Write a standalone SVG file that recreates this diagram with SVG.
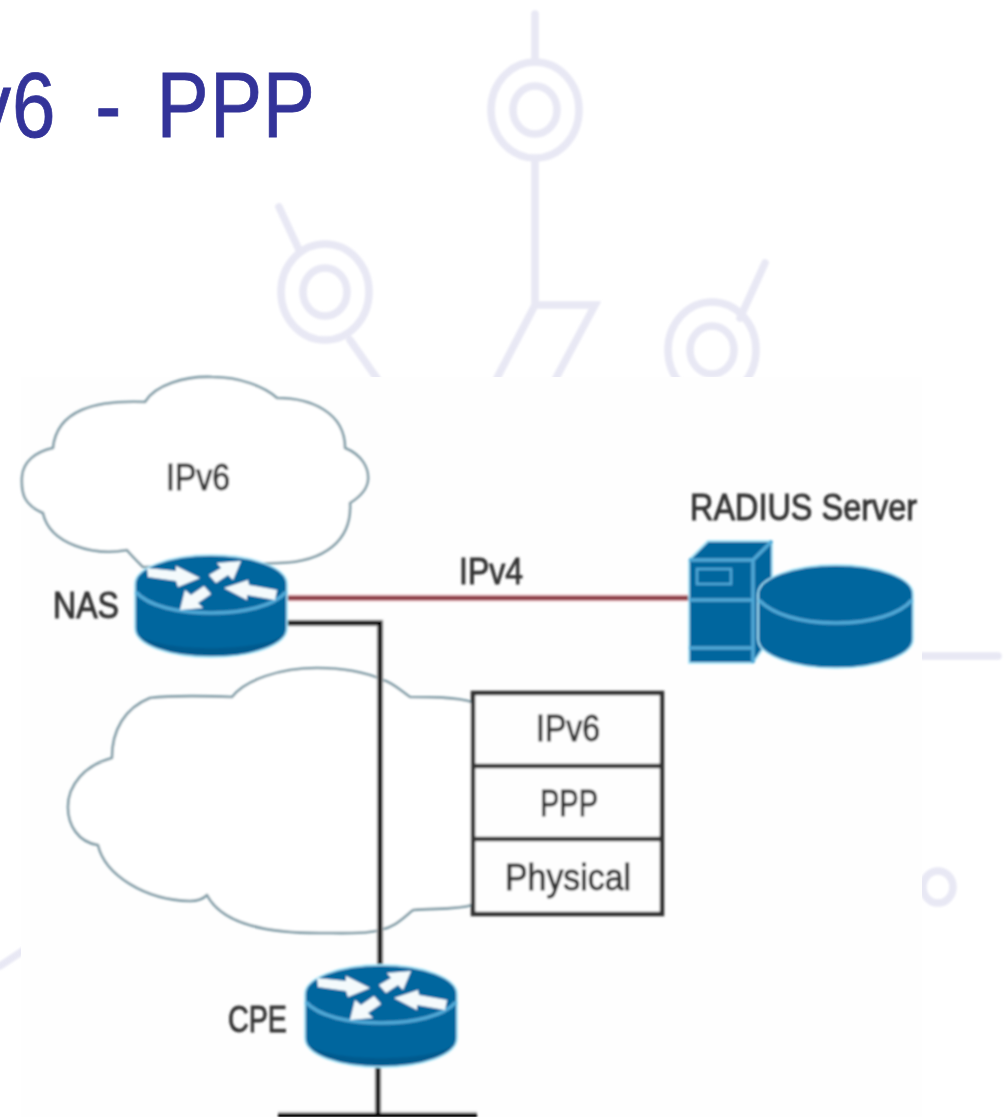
<svg xmlns="http://www.w3.org/2000/svg" width="1007" height="1117" viewBox="0 0 1007 1117">
<style>
.deco{fill:none;stroke:#e8e8f4;stroke-width:7.500;stroke-linecap:round}
.cloud{fill:#ffffff;stroke:#7f9ba6;stroke-width:2.600;stroke-linejoin:round}
.lbl{font-family:"Liberation Sans",Arial,sans-serif;font-size:37px;fill:#333333;stroke:#333333;stroke-width:.9}
.title{font-family:"Liberation Sans",Arial,sans-serif;font-size:92px;fill:#333399;stroke:#333399;stroke-width:.8}
.blue{fill:#04669e;stroke:#a5e2f7;stroke-width:1.800;stroke-linejoin:round}
.dark{fill:#035a8e}
.edge{fill:none;stroke:#4fa8d6;stroke-width:3.500}
.arrow{fill:#f4fafc}
.halo{fill:none;stroke:#cfcfcf;stroke-width:7}
.wire{fill:none;stroke:#000000;stroke-width:4.500}
.box{fill:#fefefe;stroke:#333333;stroke-width:4.500}
</style>
<defs>
<filter id="soft" x="-2%" y="-2%" width="104%" height="104%"><feGaussianBlur stdDeviation="0.8"/></filter>
<g id="router">
<path class="blue" d="M135 584V628C135 645 169 657 211 657S287 645 287 628V584C287 568 253 555 211 555S135 568 135 584Z"/>
<path class="dark" d="M137 634C150 650 180 655 211 655S272 650 285 634C270 645 240 648 211 648S152 645 137 634Z"/>
<path class="edge" d="M136 592C148 606 178 613 211 613S274 606 286 592"/>
<polygon class="arrow" points="147,568 176,571 176,566 200,578 178,587 176,581 148,577"/>
<polygon class="arrow" points="241,561 233,580 228,575 216,583 209,575 221,568 217,563"/>
<polygon class="arrow" points="224,588 248,580 249,585 277,590 275,600 247,595 247,600"/>
<polygon class="arrow" points="180,610 185,590 191,595 204,586 211,594 198,603 203,608"/>
</g>
</defs>
<rect width="1007" height="1117" fill="#ffffff"/>
<g id="background" filter="url(#soft)">
<path class="deco" d="M535 14V62M535 160V305L497 378M535 305H595L556 378M279 207L300 252M350 340L378 380M765 263L740 318M922 656H998"/>
<path class="deco" d="M0 966L24 950"/>
<ellipse class="deco" cx="535" cy="110" rx="44" ry="48"/>
<ellipse class="deco" cx="535" cy="110" rx="22" ry="24"/>
<ellipse class="deco" cx="325" cy="292" rx="44" ry="48"/>
<ellipse class="deco" cx="325" cy="292" rx="22" ry="24"/>
<ellipse class="deco" cx="712" cy="350" rx="44" ry="48"/>
<ellipse class="deco" cx="712" cy="350" rx="22" ry="24"/>
<ellipse class="deco" cx="938" cy="887" rx="15" ry="16"/>
</g>
<rect x="21" y="377" width="901" height="740" fill="#fefefe"/>
<text class="title" transform="scale(.85 1)" x="-33 14 70 112 150 184 247 309" y="137">v6 - PPP</text>
<g filter="url(#soft)">
<g id="cloud-ipv6">
<path class="cloud" d="M145 402C155 385 185 376 212 377C240 377 265 387 277 398C310 398 345 412 345 448C362 455 369 468 368 480C367 490 358 498 350 503C352 540 325 562 278 563L143 567C136 560 130 554 127 550C95 556 50 545 43 513C25 505 21 495 22 477C23 462 35 452 53 448C57 410 95 400 145 402Z"/>
<text class="lbl" x="166" y="490" textLength="64" lengthAdjust="spacingAndGlyphs">IPv6</text>
</g>
<g id="cloud-access">
<path class="cloud" d="M472 702C455 697 430 697 410 697C400 690 393 683 383 680C365 672 340 668 317 668C280 668 245 680 232 697C205 696 175 695 150 698C125 708 112 730 112 758C85 765 68 785 68 807C68 825 78 842 98 845C105 875 145 900 190 901C198 901 203 899 207 895C220 920 255 933 320 933C345 933 365 934 380 930C395 927 403 918 413 910C435 908 455 910 472 905"/>
</g>
<g id="connectors">
<path class="halo" style="stroke:#f6cfd3" d="M287 598H689"/>
<path class="wire" style="stroke:#8c3b42" d="M287 598H689"/>
<path class="halo" d="M287 623H380V967"/>
<path class="wire" d="M287 623H380V967"/>
<path class="halo" d="M378 1067V1114M278 1115H477"/>
<path class="wire" d="M378 1067V1114M278 1115.500H477"/>
</g>
<g id="nas">
<use href="#router"/>
<text class="lbl" x="53" y="618" textLength="66" lengthAdjust="spacingAndGlyphs">NAS</text>
</g>
<g id="cpe">
<use href="#router" transform="translate(170 410)"/>
<text class="lbl" x="228" y="1032" textLength="59" lengthAdjust="spacingAndGlyphs">CPE</text>
</g>
<g id="radius-server">
<polygon class="blue" points="689,560 708,541 772,541 772,600 762,650 753,663 689,663"/>
<path class="edge" d="M753 560L772 541M689 560H753V663M689 600H753M689 648H753"/>
<rect x="697" y="569" width="34" height="15" fill="none" stroke="#4fa8d6" stroke-width="2.500"/>
<path class="blue" d="M758 594V639C758 655 793 668 836 668S913 655 913 639V594C913 578 878 565 836 565S758 578 758 594Z"/>
<path class="edge" d="M759 600C772 614 800 623 836 623S900 614 912 600"/>
<text class="lbl" x="690" y="520" textLength="227" lengthAdjust="spacingAndGlyphs">RADIUS Server</text>
</g>
<g id="ipv4-label">
<text class="lbl" x="459" y="584" textLength="64" lengthAdjust="spacingAndGlyphs">IPv4</text>
</g>
<g id="protocol-stack">
<rect class="box" x="473" y="693" width="189" height="221"/>
<path class="wire" style="stroke:#333333" d="M473 766H662M473 839H662"/>
<text class="lbl" x="536" y="741" textLength="64" lengthAdjust="spacingAndGlyphs">IPv6</text>
<text class="lbl" x="540" y="816" textLength="58" lengthAdjust="spacingAndGlyphs">PPP</text>
<text class="lbl" x="505" y="890" textLength="126" lengthAdjust="spacingAndGlyphs">Physical</text>
</g>
</g>
</svg>
